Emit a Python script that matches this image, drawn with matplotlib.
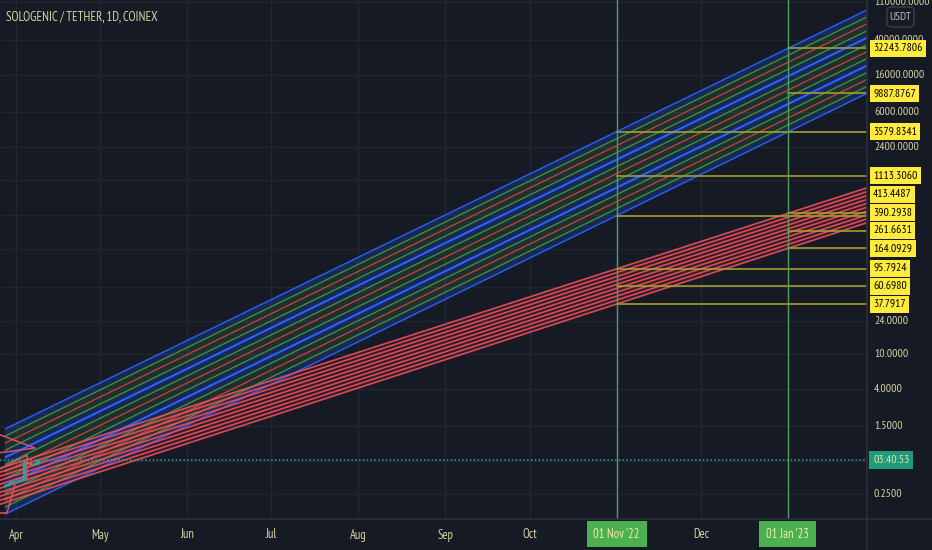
import numpy as np
import matplotlib
matplotlib.use('Agg')
import matplotlib.pyplot as plt
import matplotlib.dates as mdates
import matplotlib.font_manager as fm
from matplotlib.font_manager import FontProperties
from matplotlib.lines import Line2D
from matplotlib.patches import Rectangle, FancyBboxPatch

# ---------------- data ----------------
title = "SOLOGENIC / TETHER, 1D, COINEX"

anchor_dates = ['2022-11-01', '2023-01-01']
# upper (blue/green) channel: boundary values at the two anchor dates
upper_top = [3579.8341, 32243.7806]
upper_bottom = [390.2938, 3550.0]
upper_start = '2022-03-28'
upper_end = '2023-03-01'
upper_colors = ['blue', 'green', 'red', 'green', 'blue', 'green', 'red',
                'green', 'blue', 'green', 'red', 'green', 'blue']

# lower (red) channel
lower_top = [95.7924, 413.4487]
lower_bottom = [37.7917, 164.0929]
lower_start = '2022-03-10'
lower_end = '2023-03-01'
lower_count = 10

# horizontal level lines
level_prices = [32243.7806, 9887.8767, 3579.8341, 1113.3060, 413.4487, 390.2938,
                261.6631, 164.0929, 95.7924, 60.6980, 37.7917]
level_labels = ['32243.7806', '9887.8767', '3579.8341', '1113.3060', '413.4487', '390.2938',
                '261.6631', '164.0929', '95.7924', '60.6980', '37.7917']
level_start = ['2023-01-01', '2023-01-01', '2022-11-01', '2022-11-01', '2023-01-01', '2022-11-01',
               '2023-01-01', '2023-01-01', '2022-11-01', '2022-11-01', '2022-11-01']

# red anchor shapes at the left
shape1_dates = ['2022-03-25 14:00', '2022-04-07 19:00', '2022-03-25 14:00']
shape1_prices = [1.22, 0.843, 0.74]
shape2_dates = ['2022-03-25 14:00', '2022-04-04 22:00', '2022-04-04 22:00']
shape2_prices = [0.472, 0.70, 0.362]
shape3_dates = ['2022-03-25 14:00', '2022-03-28 19:00', '2022-03-31 14:00']
shape3_prices = [0.152, 0.152, 0.318]

# candles
candle_dates = ['2022-03-28', '2022-03-29', '2022-03-30', '2022-03-31', '2022-04-01',
                '2022-04-02', '2022-04-03', '2022-04-04', '2022-04-05', '2022-04-06',
                '2022-04-07', '2022-04-08', '2022-04-09']
c_open = [0.31, 0.32, 0.33, 0.34, 0.35, 0.355, 0.36, 0.37, 0.58, 0.565, 0.55, 0.56, 0.58]
c_high = [0.33, 0.335, 0.35, 0.36, 0.365, 0.37, 0.38, 0.63, 0.60, 0.58, 0.58, 0.60, 0.63]
c_low = [0.30, 0.31, 0.32, 0.33, 0.34, 0.345, 0.35, 0.36, 0.55, 0.53, 0.53, 0.54, 0.56]
c_close = [0.32, 0.33, 0.34, 0.35, 0.355, 0.36, 0.37, 0.58, 0.565, 0.55, 0.56, 0.58, 0.615]
last_price = 0.615
countdown = "03:40:53"

grid_values = [110000, 40000, 16000, 6000, 2400, 1000, 400, 160, 60, 24, 10, 4, 1.5, 0.6, 0.25]
tick_values = [110000, 40000, 16000, 6000, 2400, 24, 10, 4, 1.5, 0.25]
tick_labels = ['110000.0000', '40000.0000', '16000.0000', '6000.0000', '2400.0000',
               '24.0000', '10.0000', '4.0000', '1.5000', '0.2500']

month_dates = ['2022-04-01', '2022-05-01', '2022-06-01', '2022-07-01', '2022-08-01',
               '2022-09-01', '2022-10-01', '2022-11-01', '2022-12-01', '2023-01-01']
month_labels = ['Apr', 'May', 'Jun', 'Jul', 'Aug', 'Sep', 'Oct', None, 'Dec', None]
marker_dates = ['2022-11-01', '2023-01-01']
marker_labels = ["01 Nov '22", "01 Jan '23"]

# ---------------- style ----------------
W, H = 932, 550
BG = '#161a25'
GRID = '#222632'
BORDER = '#2b2f3a'
TXT = '#d6d2a2'
YEL = '#ffeb3b'
LEVEL = '#a49d2e'
COL = {'blue': '#2962ff', 'green': '#43a047', 'red': '#d5414f'}

# pick a narrow sans font if one is installed
FONT_FILE = None
SCALE = 1.0
for key in ('Narrow', 'Condensed'):
    for f in fm.fontManager.ttflist:
        fn = f.fname
        if key in fn and 'Sans' in fn and not any(b in fn for b in ('Bold', 'Italic', 'Oblique', 'Mono', 'Light', 'Thin', 'Black', 'Medium', 'Semi', 'Extra')):
            FONT_FILE = fn
            break
    if FONT_FILE:
        break
if FONT_FILE is None:
    SCALE = 0.86


def fp(size):
    if FONT_FILE:
        return FontProperties(fname=FONT_FILE, size=size)
    return FontProperties(family=['Liberation Sans', 'DejaVu Sans'], size=size * SCALE)


def dn(s):
    return mdates.date2num(np.datetime64(s))


def line_val(a_dates, a_vals, d):
    x1, x2 = dn(a_dates[0]), dn(a_dates[1])
    l1, l2 = np.log10(a_vals[0]), np.log10(a_vals[1])
    return 10 ** (l1 + (d - x1) * (l2 - l1) / (x2 - x1))


fig = plt.figure(figsize=(W / 100, H / 100), dpi=100, facecolor=BG)
ax = fig.add_axes([0, 31 / H, 867 / W, 519 / H])
ax.set_facecolor(BG)
ax.set_yscale('log')
ax.set_xlim(dn('2022-03-26T07:00'), dn('2023-01-29T05:00'))
ax.set_ylim(0.1294, 115900)
for s in ax.spines.values():
    s.set_visible(False)
ax.set_xticks([])
ax.set_yticks([])
ax.yaxis.set_minor_locator(matplotlib.ticker.NullLocator())

for g in grid_values:
    ax.axhline(g, color=GRID, lw=1, zorder=0)
for m in month_dates:
    ax.axvline(dn(m), color=GRID, lw=1, zorder=0)

# ---------- upper channel ----------
xs = np.array([dn(upper_start), dn(upper_end)])
top = np.log10(line_val(anchor_dates, upper_top, xs))
bot = np.log10(line_val(anchor_dates, upper_bottom, xs))
n = len(upper_colors)
lines_v = [10 ** (top + (bot - top) * k / (n - 1)) for k in range(n)]
for k in range(n - 1):
    c1, c2 = upper_colors[k], upper_colors[k + 1]
    if 'blue' in (c1, c2):
        fc, al = '#2962ff', 0.2
    else:
        fc, al = '#43a047', 0.17
    ax.fill_between(xs, lines_v[k], lines_v[k + 1], color=fc, alpha=al, lw=0, zorder=1)
for k in range(n):
    c = upper_colors[k]
    if c == 'blue':
        lw = 1.5 if 0 < k < n - 1 else 1.1
        al = 1.0 if 0 < k < n - 1 else 0.9
    else:
        lw, al = 1.0, 0.85
    ax.plot(xs, lines_v[k], color=COL[c], lw=lw, alpha=al, zorder=2, solid_capstyle='butt')

# ---------- lower (red) channel ----------
xs2 = np.array([dn(lower_start), dn(lower_end)])
ltop = np.log10(line_val(anchor_dates, lower_top, xs2))
lbot = np.log10(line_val(anchor_dates, lower_bottom, xs2))
red_v = [10 ** (ltop + (lbot - ltop) * k / (lower_count - 1)) for k in range(lower_count)]
ax.fill_between(xs2, red_v[0], red_v[-1], color='#f23645', alpha=0.12, lw=0, zorder=1)
for v in red_v:
    ax.plot(xs2, v, color='#ef4f5d', lw=1.2, alpha=0.9, zorder=3)

# ---------- left anchor shapes ----------
for sd, sp in ((shape1_dates, shape1_prices), (shape2_dates, shape2_prices), (shape3_dates, shape3_prices)):
    ax.plot([dn(s) for s in sd], sp, color='#e0505c', lw=1.1, zorder=3)

# ---------- candles ----------
for d, o, h, l, c in zip(candle_dates, c_open, c_high, c_low, c_close):
    col = '#26a69a' if c >= o else '#ef5350'
    x = dn(d)
    ax.vlines(x, l, h, color=col, lw=1, zorder=4)
    ax.add_patch(Rectangle((x - 0.35, min(o, c)), 0.7, abs(c - o), color=col, zorder=4))

ax.axhline(last_price, color='#26a69a', lw=1.1, ls=(0, (1, 1.5)), zorder=4)

# ---------- level lines ----------
xmax = ax.get_xlim()[1]
for p, sd in zip(level_prices, level_start):
    ax.plot([dn(sd), xmax], [p, p], color=LEVEL, lw=1.2, zorder=5)

# ---------- date markers ----------
for md in marker_dates:
    ax.axvline(dn(md), color='#4f9c5c', lw=1, zorder=5)

# ---------- frame lines ----------
fig.add_artist(Line2D([867 / W, 867 / W], [0, 1], color=BORDER, lw=1.2, transform=fig.transFigure))
fig.add_artist(Line2D([0, 1], [31 / H, 31 / H], color=BORDER, lw=1.2, transform=fig.transFigure))

# ---------- title ----------
fig.text(6 / W, 1 - 17 / H, title, color=TXT, fontproperties=fp(9.3), va='center', ha='left')


# ---------- right axis ticks ----------
def ypix(p):
    return ax.transData.transform((ax.get_xlim()[0], p))[1]


for v, lab in zip(tick_values, tick_labels):
    fig.text(874 / W, ypix(v) / H, lab, color=TXT, fontproperties=fp(8.4), va='center', ha='left')

# USDT box
fig.add_artist(FancyBboxPatch((887 / W, 1 - 27 / H), 27 / W, 20 / H,
                              boxstyle='round,pad=0,rounding_size=0.006',
                              fc=BG, ec='#3a3e4a', lw=1, transform=fig.transFigure))
fig.text(900.5 / W, 1 - 17 / H, 'USDT', color='#b8bbc4', fontproperties=fp(8.4), va='center', ha='center')

# level labels with collision avoidance (bottom to top)
ys = [ypix(p) for p in level_prices]
order = np.argsort(ys)
placed = {}
prev = None
for i in order:
    y = ys[i]
    if prev is not None and y < prev + 18:
        y = prev + 18
    placed[i] = y
    prev = y
for i, lab in enumerate(level_labels):
    fig.text(873 / W, placed[i] / H, lab, color='black', fontproperties=fp(8.4), va='center', ha='left',
             bbox=dict(boxstyle='square,pad=0.3', fc=YEL, ec='none'))

# countdown label
fig.text(873 / W, ypix(last_price) / H, countdown, color='#e6e3a0', fontproperties=fp(8.4),
         va='center', ha='left', bbox=dict(boxstyle='square,pad=0.33', fc='#1f9a7c', ec='none'))

# ---------- bottom axis ----------
for md, lab in zip(month_dates, month_labels):
    if lab is None:
        continue
    xp = ax.transData.transform((dn(md), 1))[0]
    fig.text(xp / W, 15 / H, lab, color=TXT, fontproperties=fp(9), va='center', ha='center')
for md, lab in zip(marker_dates, marker_labels):
    xp = ax.transData.transform((dn(md), 1))[0]
    fig.text(xp / W, 16 / H, lab, color='#f2eea6', fontproperties=fp(9), va='center', ha='center',
             bbox=dict(boxstyle='square,pad=0.55', fc='#4caf50', ec='none'))

fig.savefig('out.png', dpi=100, facecolor=BG)
